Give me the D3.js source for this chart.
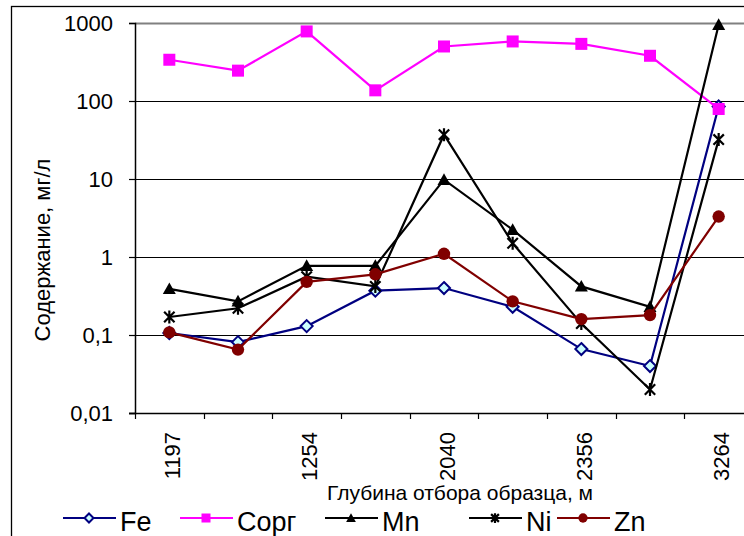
<!DOCTYPE html>
<html>
<head>
<meta charset="utf-8">
<script src="https://cdn.jsdelivr.net/npm/d3@7"></script>
<style>
  body { margin: 0; background: #fff; }
  svg { display: block; font-family: "Liberation Sans", Arial, sans-serif; }
</style>
</head>
<body>
<div id="chart"></div>
<script>
// depth labels (only every other category is labelled on the axis)
const depthLabels = ["1197", "", "1254", "", "2040", "", "2356", "", "3264"];

// concentrations, mg/l
const fe   = [0.106, 0.081, 0.13, 0.37, 0.40, 0.23, 0.066, 0.040, 85];
const corg = [338, 245, 780, 137, 500, 580, 540, 380, 79];
const mn   = [0.39, 0.27, 0.77, 0.77, 9.8, 2.24, 0.42, 0.23, 950];
const ni   = [0.17, 0.22, 0.56, 0.42, 37, 1.5, 0.14, 0.020, 32];
const zn   = [0.108, 0.065, 0.48, 0.60, 1.1, 0.27, 0.16, 0.18, 3.3];

const yTicks = [0.01, 0.1, 1, 10, 100, 1000];
const yTickLabels = ["0,01", "0,1", "1", "10", "100", "1000"];

const seriesNames = ["Fe", "Сорг", "Mn", "Ni", "Zn"];

const width = 744, height = 536;
const plot = { left: 135, top: 23, right: 753, bottom: 413 };

const svg = d3.select("#chart").append("svg")
  .attr("width", width)
  .attr("height", height);

// outer chart frame (runs off the right and bottom edge of the picture)
svg.append("rect")
  .attr("x", 11.5).attr("y", 6.5)
  .attr("width", 800).attr("height", 600)
  .attr("fill", "none").attr("stroke", "#000").attr("stroke-width", 1.3);

const x = d3.scaleBand()
  .domain(d3.range(depthLabels.length))
  .range([plot.left, plot.right])
  .padding(0);

const y = d3.scaleLog()
  .domain([0.01, 1000])
  .range([plot.bottom, plot.top]);

const cx = (i) => x(i) + x.bandwidth() / 2;

// grid lines
svg.append("g")
  .selectAll("line")
  .data(yTicks)
  .join("line")
  .attr("x1", plot.left).attr("x2", plot.right)
  .attr("y1", (d) => Math.round(y(d)) + 0.5)
  .attr("y2", (d) => Math.round(y(d)) + 0.5)
  .attr("stroke", (d) => (d === 1000 ? "#808080" : "#000"))
  .attr("stroke-width", (d) => (d === 1000 ? 2 : 1.2));

// y axis
const yAxis = svg.append("g")
  .attr("transform", `translate(${plot.left},0)`)
  .call(
    d3.axisLeft(y)
      .tickValues(yTicks)
      .tickSize(6)
      .tickPadding(16)
      .tickFormat((d, i) => yTickLabels[i])
  );
yAxis.select(".domain").attr("stroke", "#000").attr("stroke-width", 1.5);
yAxis.selectAll(".tick line").attr("stroke", "#000").attr("stroke-width", 1.2);
yAxis.selectAll(".tick text")
  .attr("fill", "#000")
  .style("font-size", "22px")
  .style("font-family", "'Liberation Sans', Arial, sans-serif");

// x axis line and ticks between categories
const xAxis = svg.append("g");
xAxis.append("line")
  .attr("x1", plot.left - 6).attr("x2", plot.right)
  .attr("y1", plot.bottom + 0.5).attr("y2", plot.bottom + 0.5)
  .attr("stroke", "#000").attr("stroke-width", 1.5);
xAxis.selectAll("line.tk")
  .data(d3.range(depthLabels.length + 1))
  .join("line")
  .attr("class", "tk")
  .attr("x1", (i) => Math.round(plot.left + i * x.bandwidth()) + 0.5)
  .attr("x2", (i) => Math.round(plot.left + i * x.bandwidth()) + 0.5)
  .attr("y1", plot.bottom).attr("y2", plot.bottom + 6)
  .attr("stroke", "#000").attr("stroke-width", 1.2);

xAxis.selectAll("text")
  .data(depthLabels.map((d, i) => ({ d, i })).filter((o) => o.d))
  .join("text")
  .attr("transform", (o) => `translate(${cx(o.i) + 3},${plot.bottom + 19}) rotate(-90)`)
  .attr("text-anchor", "end")
  .attr("dy", "0.35em")
  .style("font-size", "22px")
  .text((o) => o.d);

// axis titles
svg.append("text")
  .attr("transform", `translate(50,250) rotate(-90)`)
  .attr("text-anchor", "middle")
  .style("font-size", "22px")
  .text("Содержание, мг/л");

svg.append("text")
  .attr("x", 460).attr("y", 500)
  .attr("text-anchor", "middle")
  .style("font-size", "21px")
  .text("Глубина отбора образца, м");

// marker shapes
function marker(g, type, s) {
  if (type === "diamond") {
    g.append("path")
      .attr("d", `M0,${-s}L${s},0L0,${s}L${-s},0Z`)
      .attr("fill", "#ccffff").attr("stroke", "#000080").attr("stroke-width", 2);
  } else if (type === "square") {
    g.append("rect")
      .attr("x", -s).attr("y", -s).attr("width", 2 * s).attr("height", 2 * s)
      .attr("fill", "#ff00ff");
  } else if (type === "triangle") {
    g.append("path")
      .attr("d", `M0,${-s}L${s},${s * 0.8}L${-s},${s * 0.8}Z`)
      .attr("fill", "#000");
  } else if (type === "star") {
    const a = s * 0.8;
    g.append("path")
      .attr("d", `M${-a},${-a}L${a},${a}M${-a},${a}L${a},${-a}M0,${-s}L0,${s}`)
      .attr("stroke", "#000").attr("stroke-width", 2.2).attr("fill", "none");
  } else if (type === "circle") {
    g.append("circle").attr("r", s).attr("fill", "#800000");
  }
}

const series = [
  { name: seriesNames[0], values: fe,   color: "#000080", shape: "diamond",  size: 6 },
  { name: seriesNames[1], values: corg, color: "#ff00ff", shape: "square",   size: 6 },
  { name: seriesNames[2], values: mn,   color: "#000000", shape: "triangle", size: 6.5 },
  { name: seriesNames[3], values: ni,   color: "#000000", shape: "star",     size: 6.5 },
  { name: seriesNames[4], values: zn,   color: "#800000", shape: "circle",   size: 6.2 }
];

const line = d3.line()
  .x((d, i) => cx(i))
  .y((d) => y(d));

series.forEach((s) => {
  const g = svg.append("g");
  g.append("path")
    .datum(s.values)
    .attr("d", line)
    .attr("fill", "none")
    .attr("stroke", s.color)
    .attr("stroke-width", 2.2);
  g.selectAll("g.pt")
    .data(s.values)
    .join("g")
    .attr("class", "pt")
    .attr("transform", (d, i) => `translate(${cx(i)},${y(d)})`)
    .each(function () { marker(d3.select(this), s.shape, s.size); });
});

// legend
const legendX = [63, 180, 325, 469, 557];
const legendY = 518;
const legend = svg.append("g");
series.forEach((s, k) => {
  const g = legend.append("g").attr("transform", `translate(${legendX[k]},${legendY})`);
  g.append("line")
    .attr("x1", 0).attr("x2", 53)
    .attr("stroke", s.color).attr("stroke-width", 2.2);
  const m = g.append("g").attr("transform", "translate(26,0)");
  marker(m, s.shape, s.size * 0.75);
  g.append("text")
    .attr("x", 57).attr("y", 13)
    .style("font-size", "27px")
    .text(s.name);
});
</script>
</body>
</html>
